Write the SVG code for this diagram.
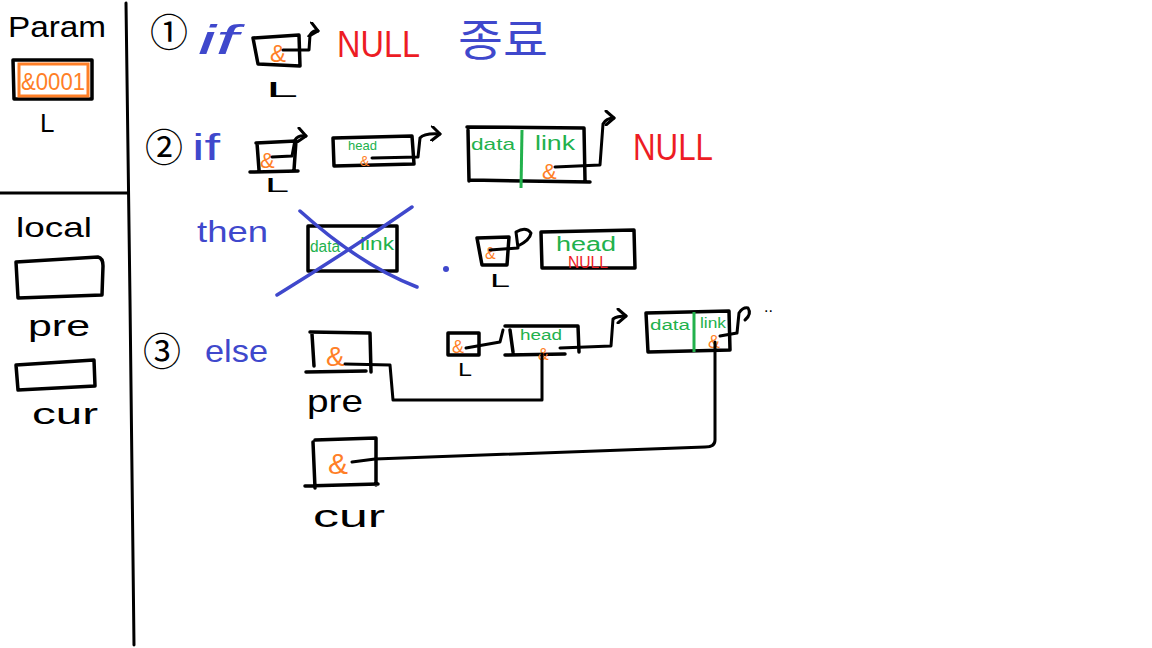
<svg xmlns="http://www.w3.org/2000/svg" width="1152" height="648" viewBox="0 0 1152 648">
<style>
.k{fill:none;stroke:#000;stroke-width:3;stroke-linecap:round;stroke-linejoin:round}
.bx{fill:none;stroke:#000;stroke-width:3.5;stroke-linecap:round;stroke-linejoin:round}
.ob{fill:none;stroke:#FF7F27;stroke-width:3}
.xb{fill:none;stroke:#3F48CC;stroke-width:3.5;stroke-linecap:round}
.gl{stroke:#22B14C;stroke-width:3}
.t{font-family:"Liberation Sans",sans-serif}
.c{font-family:"Noto Sans CJK KR","DejaVu Sans",sans-serif}
.tk{fill:#000}
.tb{fill:#3F48CC}
.tr{fill:#ED1C24}
.tg{fill:#22B14C}
.to{fill:#FF7F27}
</style>
<defs>
<marker id="ch" markerWidth="14" markerHeight="16" refX="10" refY="8" orient="auto" markerUnits="userSpaceOnUse">
<path d="M2,1 L10,8 L2,15" fill="none" stroke="#000" stroke-width="3" stroke-linecap="round" stroke-linejoin="round"/>
</marker>
</defs>
<rect width="1152" height="648" fill="#fff"/>

<g id="panel">
<path class="k" d="M126,3 L130,300 L134,645"/>
<path class="k" d="M0,193 L128,193"/>
</g>

<g id="param">
<text class="t tk" x="8" y="37" font-size="30" textLength="98" lengthAdjust="spacingAndGlyphs">Param</text>
<path class="bx" d="M13,60 L92,60 L92,99 L14,99 Z"/>
<rect class="ob" x="19" y="64" width="69" height="32"/>
<text class="t to" x="21" y="90" font-size="24" textLength="64" lengthAdjust="spacingAndGlyphs">&amp;0001</text>
<text class="t tk" x="40" y="132" font-size="26">L</text>
</g>

<g id="local">
<text class="t tk" x="16" y="237" font-size="28" textLength="76" lengthAdjust="spacingAndGlyphs">local</text>
<path class="bx" d="M16,262 L98,257 Q103,258 103,266 L102,295 L18,298 Z"/>
<text class="t tk" x="28" y="336" font-size="30" textLength="62" lengthAdjust="spacingAndGlyphs">pre</text>
<path class="bx" d="M16,365 L94,360 L95,386 L18,390 Z"/>
<text class="t tk" x="32" y="424" font-size="30" textLength="66" lengthAdjust="spacingAndGlyphs">cur</text>
</g>

<g id="step1">
<text class="c tk" x="150" y="46" font-size="38">①</text>
<text class="t tb" x="198" y="54" font-size="40" font-style="italic" textLength="40" lengthAdjust="spacingAndGlyphs">if</text>
<path class="bx" d="M253,38 L299,35 L300,66 L258,64 Z"/>
<text class="t to" x="270" y="62" font-size="24">&amp;</text>
<text class="t tk" x="266" y="97" font-size="22" textLength="32" lengthAdjust="spacingAndGlyphs">L</text>
<text class="t tr" x="337" y="57" font-size="36" textLength="83" lengthAdjust="spacingAndGlyphs">NULL</text>
<text class="c tb" x="458" y="56" font-size="44" textLength="90" lengthAdjust="spacingAndGlyphs">종료</text>
</g>

<g id="step2">
<text class="c tk" x="145" y="161" font-size="38">②</text>
<text class="t tb" x="192" y="160" font-size="36" textLength="28" lengthAdjust="spacingAndGlyphs">if</text>
<path class="bx" d="M256,143 L296,141 L294,170 M250,172 L298,171 M257,143 L259,170"/>
<text class="t to" x="260" y="168" font-size="22">&amp;</text>
<text class="t tk" x="265" y="192" font-size="20" textLength="24" lengthAdjust="spacingAndGlyphs">L</text>
<path class="bx" d="M333,138 L412,136 L414,164 L334,166 Z"/>
<text class="t tg" x="348" y="150" font-size="13">head</text>
<text class="t to" x="360" y="166" font-size="14">&amp;</text>
<path class="bx" d="M467,127 L584,128 L585,180 M468,130 L469,181 M470,180 L590,182"/>
<line class="gl" x1="522" y1="130" x2="521" y2="188"/>
<text class="t tg" x="471" y="150" font-size="17" textLength="44" lengthAdjust="spacingAndGlyphs">data</text>
<text class="t tg" x="535" y="150" font-size="20" textLength="40" lengthAdjust="spacingAndGlyphs">link</text>
<text class="t to" x="542" y="179" font-size="22">&amp;</text>
<text class="t tr" x="633" y="160" font-size="36" textLength="80" lengthAdjust="spacingAndGlyphs">NULL</text>
</g>

<g id="step2then">
<text class="t tb" x="197" y="242" font-size="30" textLength="71" lengthAdjust="spacingAndGlyphs">then</text>
<path class="bx" d="M308,226 L397,226 L397,271 L308,271 Z"/>
<text class="t tg" x="310" y="252" font-size="16" textLength="30" lengthAdjust="spacingAndGlyphs">data</text>
<text class="t tg" x="360" y="250" font-size="18" textLength="34" lengthAdjust="spacingAndGlyphs">link</text>
<path class="xb" d="M277,295 Q350,250 412,207 M300,211 Q360,265 417,287"/>
<circle cx="446" cy="269" r="3" fill="#3F48CC"/>
<path class="bx" d="M477,238 L509,237 L507,265 L482,265 Z"/>
<text class="t to" x="485" y="259" font-size="16">&amp;</text>
<text class="t tk" x="490" y="287" font-size="18" textLength="20" lengthAdjust="spacingAndGlyphs">L</text>
<path class="bx" d="M541,232 L634,230 L635,268 L542,268 Z"/>
<text class="t tg" x="556" y="251" font-size="20" textLength="60" lengthAdjust="spacingAndGlyphs">head</text>
<text class="t tr" x="568" y="268" font-size="16" textLength="40" lengthAdjust="spacingAndGlyphs">NULL</text>
</g>

<g id="step3">
<text class="c tk" x="143" y="365" font-size="38">③</text>
<text class="t tb" x="205" y="362" font-size="32" textLength="63" lengthAdjust="spacingAndGlyphs">else</text>
<path class="bx" d="M310,332 L370,333 L371,372 M312,334 L314,366 M306,372 L366,371"/>
<text class="t to" x="326" y="366" font-size="28">&amp;</text>
<text class="t tk" x="307" y="412" font-size="32" textLength="56" lengthAdjust="spacingAndGlyphs">pre</text>
<path class="bx" d="M448,333 L479,333 L479,355 L448,355 Z"/>
<text class="t to" x="452" y="353" font-size="18">&amp;</text>
<text class="t tk" x="458" y="376" font-size="18" textLength="14" lengthAdjust="spacingAndGlyphs">L</text>
<path class="bx" d="M505,326 L578,326 L579,352 M510,330 L513,352 M505,355 L565,354"/>
<text class="t tg" x="520" y="340" font-size="14" textLength="42" lengthAdjust="spacingAndGlyphs">head</text>
<text class="t to" x="538" y="360" font-size="16">&amp;</text>
<path class="bx" d="M646,313 L729,311 L730,350 L648,352 Z"/>
<line class="gl" x1="694" y1="312" x2="694" y2="352"/>
<text class="t tg" x="650" y="330" font-size="14" textLength="40" lengthAdjust="spacingAndGlyphs">data</text>
<text class="t tg" x="700" y="328" font-size="14" textLength="26" lengthAdjust="spacingAndGlyphs">link</text>
<text class="t to" x="708" y="348" font-size="18">&amp;</text>
<text class="t tk" x="764" y="312" font-size="16">..</text>
<path class="bx" d="M315,440 L376,438 L376,485 M313,442 L315,488 M305,486 L378,484"/>
<text class="t to" x="328" y="474" font-size="30">&amp;</text>
<text class="t tk" x="313" y="527" font-size="32" textLength="72" lengthAdjust="spacingAndGlyphs">cur</text>
</g>

<g id="connectors">
<path class="k" d="M283,50 L309,50 L310,35 Q313,30 318,31" marker-end="url(#ch)"/>
<path class="k" d="M272,157 L292,156 L295,140 Q298,135 306,136" marker-end="url(#ch)"/>
<path class="k" d="M372,158 L418,157 L420,138 Q424,133 440,134" marker-end="url(#ch)"/>
<path class="k" d="M555,167 L600,165 L603,124 Q606,118 614,118" marker-end="url(#ch)"/>
<path class="k" d="M490,250 L518,248 L516,232 Q526,226 531,233 Q530,240 518,246"/>
<path class="k" d="M345,364 L390,365 L393,400 L542,400 L542,354"/>
<path class="k" d="M466,348 L500,342 L503,330"/>
<path class="k" d="M560,348 L611,346 L613,319 Q617,316 626,316" marker-end="url(#ch)"/>
<path class="k" d="M720,336 L737,333 L739,313 Q743,307 748,308 Q752,314 745,320"/>
<path class="k" d="M715,342 L715,440 Q715,447 705,447 L375,459 L352,462"/>
</g>
</svg>
